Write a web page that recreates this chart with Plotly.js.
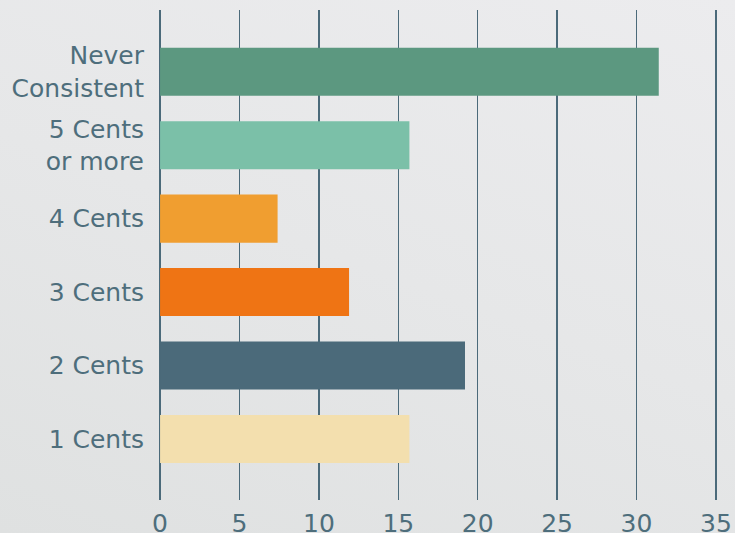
<!DOCTYPE html>
<html>
<head>
<meta charset="utf-8">
<script src="https://cdn.plot.ly/plotly-3.0.1.min.js"></script>
<style>
html,body{margin:0;padding:0;}
body{width:735px;height:533px;background:linear-gradient(200deg,#ececee 0%,#e6e7e8 50%,#dfe1e1 100%);overflow:hidden;}
#chart{width:735px;height:533px;}
</style>
</head>
<body>
<div id="chart"></div>
<script>
const categories = ["Never<br>Consistent", "5 Cents<br>or more", "4 Cents", "3 Cents", "2 Cents", "1 Cents"];
const values = [31.4, 15.7, 7.4, 11.9, 19.2, 15.7];
const colors = ["#5c9880", "#7bc0a8", "#f09e30", "#ef7414", "#4b6a7a", "#f3dfae"];
const xTicks = [0, 5, 10, 15, 20, 25, 30, 35];

const textColor = "#4e6e7c";
const trace = {
  type: "bar",
  orientation: "h",
  y: categories,
  x: values,
  marker: {color: colors, line: {width: 0}},
  width: 0.654,
  hoverinfo: "none"
};
const layout = {
  width: 735, height: 533,
  margin: {l: 158, r: 17, t: 10, b: 33, pad: 0},
  paper_bgcolor: "rgba(0,0,0,0)",
  plot_bgcolor: "rgba(0,0,0,0)",
  font: {family: "DejaVu Sans, sans-serif", size: 25, color: textColor},
  showlegend: false,
  xaxis: {
    range: [-0.13, 35.13],
    tickvals: xTicks,
    ticktext: xTicks.map(String),
    showgrid: true, gridcolor: "#4b6a7a", gridwidth: 1.4,
    zeroline: false, showline: false,
    ticks: "", ticklabelstandoff: 6,
    tickfont: {size: 25, color: textColor},
    fixedrange: true
  },
  yaxis: {
    type: "category",
    range: [5.83, -0.84],
    showgrid: false, zeroline: false, showline: false,
    ticks: "", ticklabelstandoff: 13,
    tickfont: {size: 25, color: textColor},
    fixedrange: true
  }
};
Plotly.newPlot("chart", [trace], layout, {displayModeBar: false, staticPlot: true});
</script>
</body>
</html>
